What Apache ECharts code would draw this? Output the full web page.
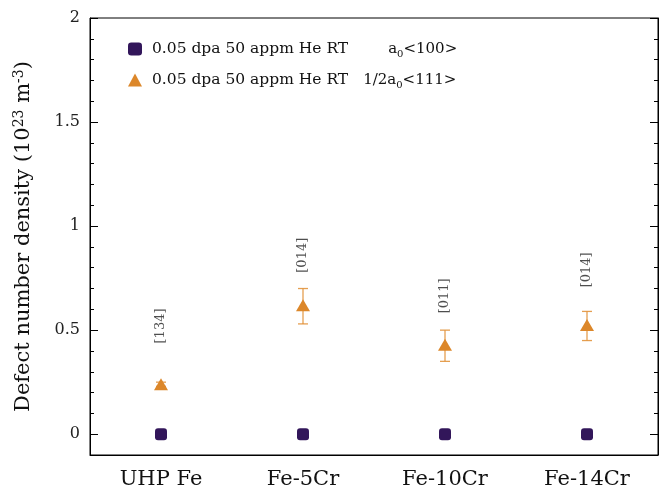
<!DOCTYPE html>
<html><head><meta charset="utf-8">
<script src="https://cdn.jsdelivr.net/npm/echarts@6/dist/echarts.min.js"></script>
<style>html,body{margin:0;padding:0;background:#fff}#c{width:660px;height:491px}</style>
</head><body><div id="c"></div>
<script>
var categories = ['UHP Fe', 'Fe-5Cr', 'Fe-10Cr', 'Fe-14Cr'];
var a100 = [0, 0, 0, 0];
var a111 = [0.24, 0.62, 0.43, 0.525];
var a111Low = [0.23, 0.53, 0.35, 0.45];
var a111High = [0.25, 0.70, 0.50, 0.59];
var annoText = ['[134]', '[014]', '[011]', '[014]'];
var annoY = [0.52, 0.86, 0.665, 0.79];
var majorTicks = [0, 0.5, 1, 1.5, 2];
var minorTicks = [0.1, 0.2, 0.3, 0.4, 0.6, 0.7, 0.8, 0.9, 1.1, 1.2, 1.3, 1.4, 1.6, 1.7, 1.8, 1.9];
var seriesNames = ['0.05 dpa 50 appm He RT a100', '0.05 dpa 50 appm He RT a111'];

var FONT = 'DejaVu Serif';
var chart = echarts.init(document.getElementById('c'));
function yAx(pos, ticks, len, labels) {
  return {
    type: 'value', position: pos, min: -0.1, max: 2,
    axisLine: {show: labels, lineStyle: {color: '#000', width: 1}},
    axisTick: {show: true, inside: true, length: len, customValues: ticks, lineStyle: {color: '#000'}},
    axisLabel: {show: labels && pos === 'left', customValues: ticks, fontFamily: FONT, fontSize: 16, color: '#222', margin: 10},
    splitLine: {show: false}
  };
}
var yAxes = [yAx('left', majorTicks, 8, true), yAx('left', minorTicks, 4, false), yAx('right', majorTicks, 8, true), yAx('right', minorTicks, 4, false)];
yAxes[0].name = '{n|Defect number density (10}{sup|23}{n| m}{sup|-3}{n|)}';
yAxes[0].nameLocation = 'middle';
yAxes[0].nameGap = 54;
yAxes[0].nameRotate = 90;
yAxes[0].nameTextStyle = {rich: {
  n: {fontFamily: FONT, fontSize: 21, color: '#111'},
  sup: {fontFamily: FONT, fontSize: 14, color: '#111', padding: [0, 0, 10, 0]}
}};

var option = {
  animation: false,
  grid: {left: 90, right: 2, top: 18, bottom: 36, show: true, borderColor: '#000', borderWidth: 1},
  legend: {
    orient: 'vertical', left: 123, top: 36, itemGap: 13, itemWidth: 14, itemHeight: 13,
    data: [{name: seriesNames[0], icon: 'roundRect'}, {name: seriesNames[1], icon: 'triangle'}],
    formatter: function (name) {
      if (name === seriesNames[0]) return '{m|0.05 dpa 50 appm He RT}{g1|}{t|a}{sub|0}{t|<100>}';
      return '{m|0.05 dpa 50 appm He RT}{g2|}{t|1/2a}{sub|0}{t|<111>}';
    },
    textStyle: {rich: {
      m: {fontFamily: FONT, fontSize: 15.5, color: '#111', padding: [0, 0, 0, 5]},
      t: {fontFamily: FONT, fontSize: 15, color: '#111'},
      g1: {width: 40}, g2: {width: 15},
      sub: {fontFamily: FONT, fontSize: 10, color: '#111', padding: [10, 0, 0, 0]}
    }}
  },
  xAxis: {
    type: 'category', data: categories, boundaryGap: true,
    axisLine: {onZero: false, lineStyle: {color: '#000'}}, axisTick: {show: false},
    axisLabel: {fontFamily: FONT, fontSize: 21, color: '#111', margin: 14}
  },
  yAxis: yAxes,
  series: [
    {name: seriesNames[0], type: 'scatter', data: a100, symbol: 'roundRect', symbolSize: 12,
     itemStyle: {color: '#32165A', opacity: 1}, z: 5},
    {name: 'err', type: 'custom', data: categories.map(function (c, i) { return [i, a111Low[i], a111High[i]]; }),
     renderItem: function (params, api) {
       var lo = api.coord([api.value(0), api.value(1)]);
       var hi = api.coord([api.value(0), api.value(2)]);
       var w = 5;
       var st = {stroke: 'rgba(224,142,50,0.85)', lineWidth: 1.3};
       return {type: 'group', children: [
         {type: 'line', shape: {x1: lo[0], y1: lo[1], x2: hi[0], y2: hi[1]}, style: st},
         {type: 'line', shape: {x1: lo[0] - w, y1: lo[1], x2: lo[0] + w, y2: lo[1]}, style: st},
         {type: 'line', shape: {x1: hi[0] - w, y1: hi[1], x2: hi[0] + w, y2: hi[1]}, style: st}
       ]};
     }, z: 3},
    {name: seriesNames[1], type: 'scatter', data: a111, symbol: 'triangle', symbolSize: [14, 12],
     itemStyle: {color: '#DC872A', opacity: 1}, z: 5},
    {name: 'anno', type: 'scatter', data: annoY.map(function (v, i) { return [i, v]; }), symbolSize: 0,
     label: {show: true, position: 'inside', rotate: 90, fontFamily: FONT, fontSize: 13, color: '#222',
       formatter: function (p) { return annoText[p.dataIndex]; }}}
  ]
};
chart.setOption(option);
</script></body></html>
